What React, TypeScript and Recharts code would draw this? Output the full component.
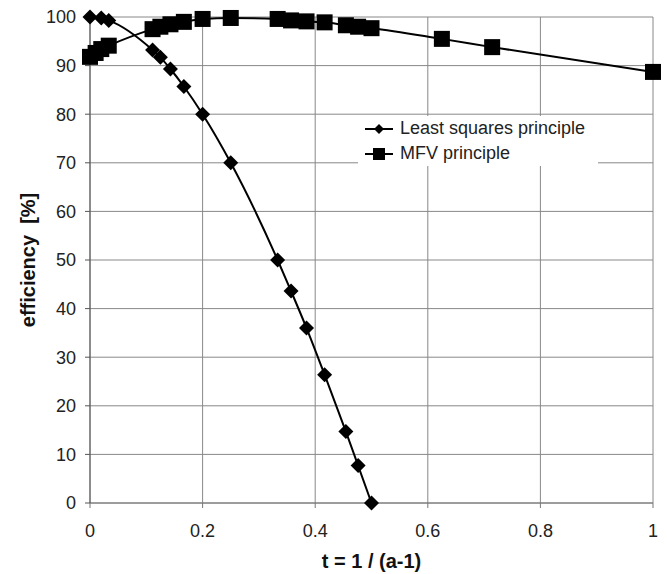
import { LineChart, Line, XAxis, YAxis, CartesianGrid, Legend, Label } from 'recharts';

// t = 1 / (a-1)
const tLeastSquares = [0, 0.02, 0.0333, 0.1111, 0.125, 0.1429, 0.1667, 0.2, 0.25, 0.3333, 0.3571, 0.3846, 0.4167, 0.4545, 0.4762, 0.5];
const effLeastSquares = [100, 99.8, 99.3, 93.2, 91.7, 89.3, 85.7, 80, 70, 50, 43.6, 36, 26.4, 14.7, 7.7, 0];

const tMfv = [0, 0.01, 0.02, 0.0333, 0.1111, 0.125, 0.1429, 0.1667, 0.2, 0.25, 0.3333, 0.3571, 0.3846, 0.4167, 0.4545, 0.4762, 0.5, 0.625, 0.7143, 1];
const effMfv = [91.8, 92.6, 93.4, 94.1, 97.5, 98.0, 98.5, 99.0, 99.6, 99.8, 99.6, 99.3, 99.1, 98.9, 98.3, 98.0, 97.7, 95.5, 93.8, 88.7];

const xTicks = [0, 0.2, 0.4, 0.6, 0.8, 1];
const yTicks = [0, 10, 20, 30, 40, 50, 60, 70, 80, 90, 100];

const SERIES_NAMES = ['Least squares principle', 'MFV principle'];

const lsData = tLeastSquares.map((t, i) => ({ t, eff: effLeastSquares[i] }));
const mfvData = tMfv.map((t, i) => ({ t, eff: effMfv[i] }));

const FONT = 'Arial, "Liberation Sans", sans-serif';

const diamond = (cx: number, cy: number, r: number) =>
  `${cx},${cy - r} ${cx + r},${cy} ${cx},${cy + r} ${cx - r},${cy}`;

function DiamondDot(props: any) {
  const { cx, cy, index } = props;
  if (cx == null || cy == null) return null;
  return <polygon key={`d-${index}`} points={diamond(cx, cy, 7.5)} fill="#000" />;
}

function SquareDot(props: any) {
  const { cx, cy, index } = props;
  if (cx == null || cy == null) return null;
  return <rect key={`s-${index}`} x={cx - 8} y={cy - 8} width={16} height={16} fill="#000" />;
}

function LegendBox() {
  return (
    <div style={{ background: '#fff', padding: '0 0 0 7px', fontFamily: FONT, fontSize: 18, color: '#222' }}>
      {SERIES_NAMES.map((name, i) => (
        <div key={name} style={{ display: 'flex', alignItems: 'center', height: 25 }}>
          <svg width={28} height={16} style={{ marginRight: 7 }}>
            <line x1={0} y1={8} x2={28} y2={8} stroke="#000" strokeWidth={2} />
            {i === 0 ? <polygon points={diamond(14, 8, 5)} fill="#000" /> : <rect x={8} y={2} width={12} height={12} fill="#000" />}
          </svg>
          <span>{name}</span>
        </div>
      ))}
    </div>
  );
}

export default function App() {
  return (
    <div style={{ position: 'absolute', left: 0, top: 0, background: '#fff' }}>
      <LineChart width={667} height={574} margin={{ top: 17, right: 14, left: 0, bottom: 0 }}>
        <CartesianGrid stroke="#888" strokeWidth={1} />
        <XAxis
          type="number"
          dataKey="t"
          domain={[0, 1]}
          ticks={xTicks}
          height={71}
          tickSize={5}
          tickMargin={16}
          stroke="#777"
          tick={{ fill: '#222', fontSize: 18, fontFamily: FONT }}
          allowDuplicatedCategory={false}
        >
          <Label
            value="t = 1 / (a-1)"
            position="insideBottom"
            offset={6}
            style={{ fill: '#111', fontSize: 20, fontWeight: 'bold', fontFamily: FONT }}
          />
        </XAxis>
        <YAxis
          type="number"
          domain={[0, 100]}
          ticks={yTicks}
          width={90}
          tickSize={5}
          tickMargin={9}
          stroke="#555"
          tick={{ fill: '#222', fontSize: 18, fontFamily: FONT }}
        >
          <Label
            value={'efficiency\u00A0\u00A0[%]'}
            angle={-90}
            position="insideLeft"
            offset={28}
            style={{ fill: '#111', fontSize: 20, fontWeight: 'bold', fontFamily: FONT, textAnchor: 'middle' }}
          />
        </YAxis>
        <Line
          data={lsData}
          dataKey="eff"
          name={SERIES_NAMES[0]}
          type="monotone"
          stroke="#000"
          strokeWidth={2}
          dot={DiamondDot}
          activeDot={false}
          isAnimationActive={false}
        />
        <Line
          data={mfvData}
          dataKey="eff"
          name={SERIES_NAMES[1]}
          type="monotone"
          stroke="#000"
          strokeWidth={2}
          dot={SquareDot}
          activeDot={false}
          isAnimationActive={false}
        />
        <Legend
          layout="vertical"
          align="center"
          verticalAlign="middle"
          content={() => <LegendBox />}
          wrapperStyle={{ left: 358, top: 116, width: 240 }}
        />
      </LineChart>
    </div>
  );
}
